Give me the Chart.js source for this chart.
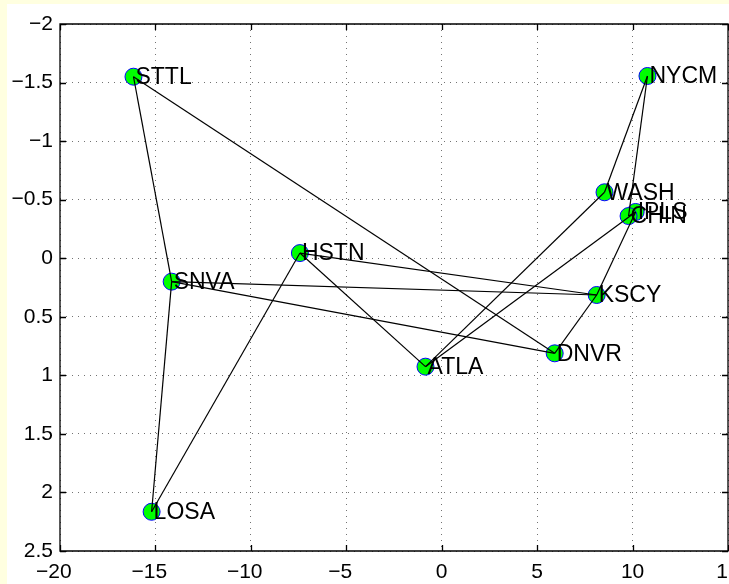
<!DOCTYPE html>
<html>
<head>
<meta charset="utf-8">
<script src="https://cdn.jsdelivr.net/npm/chart.js@4/dist/chart.umd.min.js"></script>
<style>
  html, body { margin: 0; padding: 0; background: #ffffe0; overflow: hidden; width: 729px; height: 584px; }
  #wrap { position: absolute; left: 7px; top: 4px; width: 722px; height: 580px; background: #ffffff; }
  canvas { display: block; }
</style>
</head>
<body>
<div id="wrap"><canvas id="c" width="722" height="580"></canvas></div>
<script>
// Node names and coordinates
const nodeNames = ['STTL', 'SNVA', 'LOSA', 'HSTN', 'DNVR', 'KSCY', 'ATLA', 'IPLS', 'CHIN', 'WASH', 'NYCM'];
const nodeX     = [-16.15, -14.15, -15.2, -7.43, 5.92, 8.12, -0.85, 10.16, 9.79, 8.53, 10.78];
const nodeY     = [-1.55, 0.20, 2.165, -0.044, 0.812, 0.314, 0.926, -0.395, -0.36, -0.563, -1.556];

// Links between nodes
const edgeFrom = ['STTL', 'STTL', 'SNVA', 'SNVA', 'SNVA', 'LOSA', 'HSTN', 'HSTN', 'DNVR', 'KSCY', 'ATLA', 'ATLA', 'IPLS', 'CHIN', 'NYCM'];
const edgeTo   = ['SNVA', 'DNVR', 'LOSA', 'DNVR', 'KSCY', 'HSTN', 'KSCY', 'ATLA', 'KSCY', 'IPLS', 'IPLS', 'WASH', 'CHIN', 'NYCM', 'WASH'];

// Axis tick values
const xTicks = [-20, -15, -10, -5, 0, 5, 10, 15];
const yTicks = [-2, -1.5, -1, -0.5, 0, 0.5, 1, 1.5, 2, 2.5];

const FONT = "'Liberation Sans', Arial, Helvetica, sans-serif";

function pt(name) {
  const i = nodeNames.indexOf(name);
  return { x: nodeX[i], y: nodeY[i] };
}

const datasets = [];
for (let k = 0; k < edgeFrom.length; k++) {
  datasets.push({
    data: [pt(edgeFrom[k]), pt(edgeTo[k])],
    showLine: true,
    borderColor: '#000000',
    borderWidth: 1.2,
    pointRadius: 0,
    pointHoverRadius: 0,
    fill: false,
    order: 1
  });
}
datasets.push({
  data: nodeNames.map((n, i) => ({ x: nodeX[i], y: nodeY[i] })),
  showLine: false,
  pointRadius: 8.5,
  pointHoverRadius: 8.5,
  backgroundColor: '#00ff00',
  borderColor: '#0000ff',
  borderWidth: 1,
  order: 2
});

function fmt(v) {
  const r = Math.round(v * 10) / 10;
  return r < 0 ? '\u2212' + String(Math.abs(r)) : String(r);
}

const overlay = {
  id: 'overlay',
  afterDraw(chart) {
    const ctx = chart.ctx;
    const a = chart.chartArea;
    const xs = chart.scales.x, ys = chart.scales.y;
    // node labels
    ctx.save();
    ctx.fillStyle = '#000000';
    ctx.font = '23px ' + FONT;
    ctx.textAlign = 'left';
    ctx.textBaseline = 'middle';
    nodeNames.forEach((n, i) => {
      ctx.fillText(n, xs.getPixelForValue(nodeX[i]) + 2, ys.getPixelForValue(nodeY[i]) + 1);
    });
    ctx.restore();
    // x tick labels (digits centred on the tick, minus sign hanging left)
    ctx.save();
    ctx.fillStyle = '#000000';
    ctx.font = '21px ' + FONT;
    ctx.textAlign = 'right';
    ctx.textBaseline = 'alphabetic';
    xTicks.forEach(v => {
      const label = fmt(v);
      const digits = String(Math.abs(v));
      const w = ctx.measureText(digits).width;
      ctx.fillText(label, xs.getPixelForValue(v) + w / 2, a.bottom + 27);
    });
    ctx.restore();
    // frame and inward ticks
    ctx.save();
    ctx.strokeStyle = '#000000';
    ctx.lineWidth = 1.3;
    ctx.beginPath();
    ctx.rect(a.left, a.top, a.right - a.left, a.bottom - a.top);
    const tl = 6;
    xTicks.forEach(v => {
      const px = Math.round(xs.getPixelForValue(v)) + 0.5;
      ctx.moveTo(px, a.bottom); ctx.lineTo(px, a.bottom - tl);
      ctx.moveTo(px, a.top); ctx.lineTo(px, a.top + tl);
    });
    yTicks.forEach(v => {
      const py = Math.round(ys.getPixelForValue(v)) + 0.5;
      ctx.moveTo(a.left, py); ctx.lineTo(a.left + tl, py);
      ctx.moveTo(a.right, py); ctx.lineTo(a.right - tl, py);
    });
    ctx.stroke();
    ctx.restore();
  }
};

new Chart(document.getElementById('c'), {
  type: 'scatter',
  data: { datasets },
  options: {
    responsive: false,
    animation: false,
    events: [],
    layout: { autoPadding: false, padding: { left: 0, top: 20, right: 1, bottom: 0 } },
    plugins: { legend: { display: false }, tooltip: { enabled: false }, title: { display: false } },
    scales: {
      x: {
        type: 'linear',
        min: -20, max: 15,
        afterBuildTicks(scale) { scale.ticks = xTicks.map(v => ({ value: v })); },
        ticks: { display: false, autoSkip: false, maxRotation: 0 },
        grid: { color: 'rgba(0,0,0,0.55)', lineWidth: 1, drawTicks: false },
        border: { display: false, dash: [1, 5] },
        afterFit(scale) { scale.height = 33; scale.paddingLeft = 0; scale.paddingRight = 0; }
      },
      y: {
        type: 'linear',
        reverse: true,
        min: -2, max: 2.5,
        afterBuildTicks(scale) { scale.ticks = yTicks.map(v => ({ value: v })); },
        ticks: {
          autoSkip: false,
          padding: 7,
          color: '#000000',
          font: { family: FONT, size: 21 },
          callback: v => fmt(v)
        },
        grid: { color: 'rgba(0,0,0,0.55)', lineWidth: 1, drawTicks: false },
        border: { display: false, dash: [1, 5] },
        afterFit(scale) { scale.width = 53; scale.paddingTop = 0; scale.paddingBottom = 0; }
      }
    }
  },
  plugins: [overlay]
});
</script>
</body>
</html>
